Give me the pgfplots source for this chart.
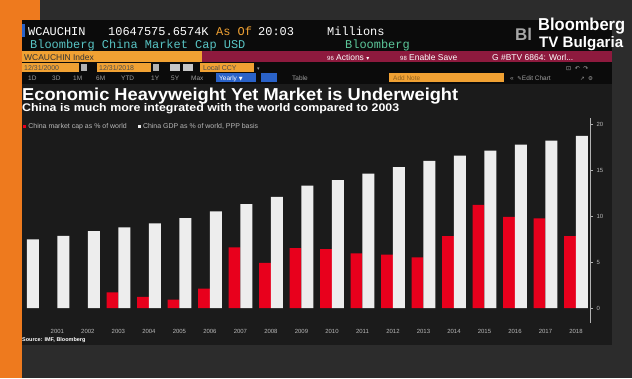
\documentclass[border=0pt]{standalone}
\usepackage{pgfplots}
\pgfplotsset{compat=1.18}
\usepackage{fontspec}
\setmainfont{Liberation Sans}
\setmonofont{Liberation Mono}
\newfontfamily\djv{DejaVu Sans}
\definecolor{bbred}{HTML}{E8001C}
\definecolor{bbwhite}{HTML}{EDEDED}
\definecolor{plotbg}{HTML}{1B1B1B}
\definecolor{panelbg}{HTML}{0B0B0B}
\definecolor{amber}{HTML}{F0A133}
\definecolor{crimson}{HTML}{8E1A3E}
\definecolor{tealc}{HTML}{58C4C4}
\definecolor{tealg}{HTML}{5CC79A}
\definecolor{bbblue}{HTML}{2A62C8}
\definecolor{studio}{HTML}{2C2C2C}
\definecolor{tvorange}{HTML}{EE7A1E}
\definecolor{dimtxt}{HTML}{B8B8B8}
\begin{document}
\begin{tikzpicture}
\begin{scope}[x=1bp,y=-1bp]
\fill[studio] (0,0) rectangle (632,378);
\fill[tvorange] (0,0) rectangle (22,378);
\fill[tvorange] (0,0) rectangle (40,20);
\fill[panelbg] (22,20) rectangle (612,345);
\fill[plotbg] (22,84) rectangle (612,345);
% logo
\node[anchor=base west, inner sep=0, text=gray!70, font=\bfseries\fontsize{17}{17}\selectfont] at (515,40) {Bl};
\node[anchor=base west, inner sep=0, text=white] at (538,30) {\resizebox{87bp}{12.5bp}{\bfseries Bloomberg}};
\node[anchor=base west, inner sep=0, text=white] at (539,47) {\resizebox{84bp}{11bp}{\bfseries TV Bulgaria}};
% row 1
\fill[bbblue] (22,24) rectangle (25,37);
\begin{scope}[every node/.style={anchor=base west, inner sep=0, font=\ttfamily\fontsize{12}{12}\selectfont}]
\node[text=white] at (28,35) {WCAUCHIN};
\node[text=white] at (108,35) {10647575.6574K};
\node[text=amber] at (216,35) {As Of};
\node[text=white] at (258,35) {20:03};
\node[text=white] at (327,35) {Millions};
\node[text=tealc] at (30,48) {Bloomberg China Market Cap USD};
\node[text=tealg] at (345,48) {Bloomberg};
\end{scope}
% row 3
\fill[amber] (22,51) rectangle (202,62);
\fill[crimson] (202,51) rectangle (612,62);
\begin{scope}[every node/.style={anchor=base west, inner sep=0, font=\fontsize{8.5}{8.5}\selectfont}]
\node[text=black!80] at (24,60) {WCAUCHIN Index};
\node[text=white] at (327,60) {{\fontsize{6}{6}\selectfont 96} Actions {\djv\fontsize{6}{6}\selectfont ▾}};
\node[text=white] at (400,60) {{\fontsize{6}{6}\selectfont 98} Enable Save};
\node[text=white] at (492,60) {G \#BTV 6864: Worl...};
\end{scope}
% row 4
\fill[amber] (22,63) rectangle (79,72);
\fill[gray!60] (81,64) rectangle (87,71);
\fill[amber] (97,63) rectangle (151,72);
\fill[gray!60] (153,64) rectangle (159,71);
\fill[gray!45] (170,64) rectangle (180,71);
\fill[gray!45] (183,64) rectangle (193,71);
\fill[amber] (200,63) rectangle (254,72);
\begin{scope}[every node/.style={anchor=base west, inner sep=0, font=\fontsize{7}{7}\selectfont}]
\node[text=black!70] at (24,70.5) {12/31/2000};
\node[text=black!70] at (99,70.5) {12/31/2018};
\node[text=black!70] at (203,70.5) {Local CCY};
\node[text=gray!70] at (257,70.5) {\djv\fontsize{5}{5}\selectfont ▾};
\node[text=gray!70] at (566,70.5) {\djv\fontsize{6}{6}\selectfont ⊡\; ↶\; ↷};
\end{scope}
% row 5
\fill[bbblue] (216,73) rectangle (256,82);
\fill[bbblue] (261,73) rectangle (277,82);
\fill[amber] (389,73) rectangle (504,82);
\begin{scope}[every node/.style={anchor=base west, inner sep=0, font=\fontsize{6.5}{6.5}\selectfont, text=gray!75}]
\node at (28,80.5) {1D};
\node at (52,80.5) {3D};
\node at (73,80.5) {1M};
\node at (96,80.5) {6M};
\node at (121,80.5) {YTD};
\node at (151,80.5) {1Y};
\node at (171,80.5) {5Y};
\node at (191,80.5) {Max};
\node[text=white] at (219,80.5) {Yearly {\djv\fontsize{5}{5}\selectfont ▼}};
\node at (292,80.5) {Table};
\node[text=amber!60!black] at (393,80.5) {Add Note};
\node at (510,80.5) {«\; {\djv\fontsize{5.5}{5.5}\selectfont ✎}Edit Chart};
\node at (580,80.5) {{\djv\fontsize{5.5}{5.5}\selectfont ↗\; ⚙}};
\end{scope}
% titles
\node[anchor=base west, inner sep=0, text=white] at (22,100.5) {\resizebox{436bp}{12.5bp}{\bfseries Economic Heavyweight Yet Market is Underweight}};
\node[anchor=base west, inner sep=0, text=white] at (22,111.5) {\resizebox{377bp}{8bp}{\bfseries China is much more integrated with the world compared to 2003}};
\node[anchor=base west, inner sep=0, text=white, font=\bfseries\fontsize{5.5}{5.5}\selectfont] at (22,341) {Source: IMF, Bloomberg};
\end{scope}
\begin{axis}[
  at={(22bp,-323bp)}, anchor=south west,
  scale only axis, width=568bp, height=205bp,
  xmin=1999.84, xmax=2018.46, ymin=-1.63, ymax=20.65,
  axis x line*=bottom, axis y line*=right,
  x axis line style={draw=none},
  y axis line style={draw=gray!60, line width=0.4bp},
  /pgf/number format/assume math mode=true,
  xtick={2001,2002,2003,2004,2005,2006,2007,2008,2009,2010,2011,2012,2013,2014,2015,2016,2017,2018},
  xticklabels={2001,2002,2003,2004,2005,2006,2007,2008,2009,2010,2011,2012,2013,2014,2015,2016,2017,2018},
  major x tick style={draw=none},
  xticklabel style={font=\fontsize{6}{6}\selectfont, text=dimtxt},
  ytick={0,5,10,15,20},
  yticklabel style={font=\fontsize{6}{6}\selectfont, text=dimtxt},
  ytick style={draw=gray!60, line width=0.4bp},
  tick align=outside, major tick length=3bp,
  legend columns=2,
  legend style={at={(axis description cs:0,0.99)}, anchor=north west, draw=none, fill=none,
    font=\fontsize{7}{7}\selectfont, text=dimtxt, inner sep=1bp,
    /tikz/every even column/.append style={column sep=9bp}},
  legend cell align=left,
]
\addplot[ybar, bar width=0.39, bar shift=-0.195, fill=bbred, draw=none,
  legend image code/.code={\fill[bbred] (0bp,-1.6bp) rectangle (3.2bp,1.6bp);}]
  coordinates {(2003,1.7) (2004,1.2) (2005,0.9) (2006,2.1) (2007,6.6) (2008,4.9) (2009,6.5) (2010,6.4) (2011,5.95) (2012,5.8) (2013,5.5) (2014,7.8) (2015,11.2) (2016,9.9) (2017,9.75) (2018,7.8)};
\addplot[ybar, bar width=0.39, bar shift=0.195, fill=bbwhite, draw=none,
  legend image code/.code={\fill[bbwhite] (0bp,-1.6bp) rectangle (3.2bp,1.6bp);}]
  coordinates {(2000,7.47) (2001,7.83) (2002,8.37) (2003,8.77) (2004,9.2) (2005,9.78) (2006,10.5) (2007,11.3) (2008,12.07) (2009,13.3) (2010,13.9) (2011,14.6) (2012,15.3) (2013,16.0) (2014,16.55) (2015,17.1) (2016,17.75) (2017,18.2) (2018,18.7)};
\legend{China market cap as \% of world, {China GDP as \% of world, PPP basis}}
\node[rotate=-90, font=\fontsize{6.5}{6.5}\selectfont, text=dimtxt] at (axis description cs:1.026,0.49) {Percent};
\end{axis}
\end{tikzpicture}
\end{document}
